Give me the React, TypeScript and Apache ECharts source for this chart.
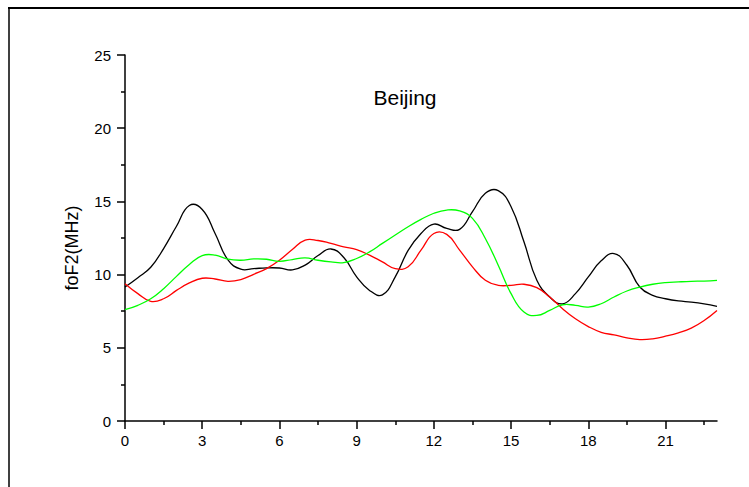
import React, { useEffect, useRef } from "react";
import * as echarts from "echarts";

const hours: number[] = [
  0, 0.5, 1, 1.5, 2, 2.5, 3, 3.5, 4, 4.5, 5, 5.5, 6, 6.5, 7, 7.5, 8, 8.5, 9, 9.5, 10, 10.5, 11, 11.5,
  12, 12.5, 13, 13.5, 14, 14.5, 15, 15.5, 16, 16.5, 17, 17.5, 18, 18.5, 19, 19.5, 20, 20.5, 21, 21.5,
  22, 22.5, 23,
];

const blackValues: number[] = [
  9.15, 9.79, 10.5, 11.78, 13.3, 14.72, 14.45, 12.81, 11.0, 10.37, 10.41, 10.46, 10.45, 10.32, 10.65, 11.3,
  11.75, 11.17, 9.85, 8.92, 8.62, 9.84, 11.65, 12.81, 13.45, 13.15, 13.09, 14.3, 15.56, 15.74, 14.64, 12.24,
  9.61, 8.47, 8.0, 8.7, 9.84, 10.94, 11.44, 10.64, 9.15, 8.58, 8.35, 8.2, 8.12, 8.0, 7.83,
];

const redValues: number[] = [
  9.38, 8.7, 8.17, 8.35, 8.92, 9.43, 9.75, 9.7, 9.54, 9.66, 10.02, 10.41, 10.98, 11.71, 12.36, 12.33,
  12.13, 11.9, 11.71, 11.33, 10.87, 10.41, 10.53, 11.67, 12.81, 12.75, 11.67, 10.53, 9.61, 9.27, 9.27, 9.34,
  9.11, 8.47, 7.67, 6.98, 6.45, 6.06, 5.88, 5.68, 5.56, 5.61, 5.79, 6.02, 6.34, 6.86, 7.55,
];

const greenValues: number[] = [
  7.6, 7.9, 8.35, 9.04, 9.88, 10.69, 11.3, 11.33, 11.05, 10.98, 11.07, 11.05, 10.91, 11.03, 11.14, 10.98,
  10.87, 10.82, 11.1, 11.55, 12.13, 12.7, 13.27, 13.77, 14.19, 14.41, 14.35, 13.84, 12.47, 10.64, 8.7, 7.44,
  7.21, 7.55, 7.94, 7.9, 7.78, 8.01, 8.47, 8.88, 9.15, 9.34, 9.45, 9.5, 9.54, 9.56, 9.61,
];

const xMajorTicks: number[] = [0, 3, 6, 9, 12, 15, 18, 21];
const xMinorTicks: number[] = [1.5, 4.5, 7.5, 10.5, 13.5, 16.5, 19.5, 22.5];

const title = "Beijing";
const yName = "foF2(MHz)";

const FONT = "'Liberation Sans', Arial, sans-serif";

export default function App() {
  const ref = useRef<HTMLDivElement>(null);

  useEffect(() => {
    document.body.style.margin = "0";
    if (!ref.current) return;
    const chart = echarts.init(ref.current, null, { renderer: "svg" });
    const pair = (vals: number[]) => hours.map((h, i) => [h, vals[i]]);
    const curveSeries = (name: string, vals: number[], color: string) => ({
      name,
      type: "custom",
      coordinateSystem: "cartesian2d",
      xAxisIndex: 0,
      yAxisIndex: 0,
      data: pair(vals),
      encode: { x: 0, y: 1 },
      renderItem: (params: any, api: any) => {
        if (params.dataIndex !== 0) return null;
        const points = hours.map((h, i) => api.coord([h, vals[i]]));
        return {
          type: "polyline",
          shape: { points, smooth: 0.45 },
          style: { stroke: color, lineWidth: 1.3, fill: null },
        };
      },
    });
    chart.setOption({
      animation: false,
      backgroundColor: "#ffffff",
      textStyle: { fontFamily: FONT },
      grid: { left: 125, top: 55, right: 32, bottom: 66 },
      graphic: [
        { type: "line", shape: { x1: 8, y1: 8, x2: 749, y2: 8 }, style: { stroke: "#000", lineWidth: 2 } },
        { type: "line", shape: { x1: 9, y1: 8, x2: 9, y2: 487 }, style: { stroke: "#000", lineWidth: 1.5 } },
        {
          type: "text",
          x: 405,
          y: 97,
          style: {
            text: title,
            fontSize: 21,
            fontFamily: FONT,
            fill: "#000",
            textAlign: "center",
            textVerticalAlign: "middle",
          },
        },
        {
          type: "text",
          x: 72,
          y: 248,
          rotation: Math.PI / 2,
          style: {
            text: yName,
            fontSize: 18,
            fontFamily: FONT,
            fill: "#000",
            textAlign: "center",
            textVerticalAlign: "middle",
          },
        },
      ],
      xAxis: [
        {
          type: "value",
          min: 0,
          max: 23,
          interval: 3,
          position: "bottom",
          splitLine: { show: false },
          axisLine: { show: true, lineStyle: { color: "#000", width: 1.5 } },
          axisTick: { show: true, inside: false, length: 8, customValues: xMajorTicks, lineStyle: { color: "#000", width: 1.5 } },
          axisLabel: { show: true, customValues: xMajorTicks, color: "#000", fontSize: 15, fontFamily: FONT, margin: 12 },
        },
        {
          type: "value",
          min: 0,
          max: 23,
          position: "bottom",
          splitLine: { show: false },
          axisLine: { show: false },
          axisTick: { show: true, inside: false, length: 4, customValues: xMinorTicks, lineStyle: { color: "#000", width: 1.5 } },
          axisLabel: { show: false },
        },
      ],
      yAxis: {
        type: "value",
        min: 0,
        max: 25,
        interval: 5,
        splitLine: { show: false },
        axisLine: { show: true, lineStyle: { color: "#000", width: 1.5 } },
        axisTick: { show: true, inside: false, length: 8, lineStyle: { color: "#000", width: 1.5 } },
        minorTick: { show: true, splitNumber: 2, length: 4, lineStyle: { color: "#000", width: 1.5 } },
        axisLabel: { color: "#000", fontSize: 15, fontFamily: FONT, margin: 14 },
      },
      series: [
        curveSeries("black", blackValues, "#000000"),
        curveSeries("red", redValues, "#ff0000"),
        curveSeries("green", greenValues, "#00ff00"),
      ],
    });
    return () => chart.dispose();
  }, []);

  return <div ref={ref} style={{ width: 749, height: 487 }} />;
}
